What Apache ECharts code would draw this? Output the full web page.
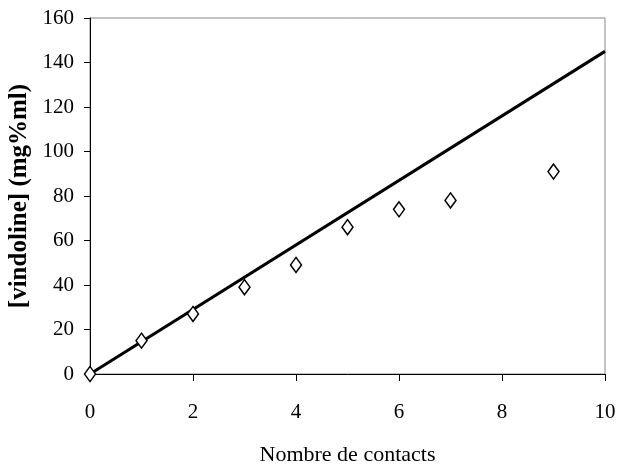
<!DOCTYPE html>
<html>
<head>
<meta charset="utf-8">
<script src="https://cdn.jsdelivr.net/npm/echarts@6/dist/echarts.min.js"></script>
<style>
  html, body { margin: 0; padding: 0; background: #fff; }
  #chart { width: 618px; height: 465px; }
</style>
</head>
<body>
<div id="chart"></div>
<script>
// mesures
var contacts = [0, 1, 2, 3, 4, 5, 6, 7, 9];
var vindoline = [0, 15, 27, 39, 49, 66, 74, 78, 91];
// droite théorique
var lineX = [0, 10];
var lineY = [0, 145];

var myChart = echarts.init(document.getElementById('chart'));
var font = 'Liberation Serif';

var option = {
  backgroundColor: '#fff',
  animation: false,
  grid: {
    left: 90, right: 13, top: 18, bottom: 91,
    outerBoundsMode: 'none',
    containLabel: false,
    show: true,
    borderColor: '#888',
    borderWidth: 1
  },
  xAxis: {
    type: 'value',
    min: 0, max: 10, interval: 2,
    name: 'Nombre de contacts',
    nameLocation: 'middle',
    nameGap: 70,
    nameTextStyle: { fontFamily: font, fontSize: 22, color: '#000' },
    axisLine: { lineStyle: { color: '#000', width: 1 } },
    axisTick: { inside: false, length: 7, lineStyle: { color: '#000' } },
    axisLabel: { fontFamily: font, fontSize: 21, color: '#000', margin: 28 },
    splitLine: { show: false }
  },
  yAxis: {
    type: 'value',
    min: 0, max: 160, interval: 20,
    name: '[vindoline] (mg%ml)',
    nameLocation: 'middle',
    nameGap: 57,
    nameTextStyle: { fontFamily: font, fontSize: 25, fontWeight: 'bold', color: '#000' },
    axisLine: { show: true, lineStyle: { color: '#000', width: 1 } },
    axisTick: { show: true, length: 6, lineStyle: { color: '#000' } },
    axisLabel: { fontFamily: font, fontSize: 21, color: '#000', margin: 16 },
    splitLine: { show: false }
  },
  series: [{
    type: 'line',
    data: lineX.map(function (x, i) { return [x, lineY[i]]; }),
    showSymbol: false,
    lineStyle: { color: '#000', width: 3 },
    z: 2
  }, {
    type: 'scatter',
    data: contacts.map(function (x, i) { return [x, vindoline[i]]; }),
    symbol: 'path://M5,0 L10,7 L5,14 L0,7 Z',
    symbolSize: [11, 15],
    itemStyle: { color: '#fff', borderColor: '#000', borderWidth: 1.5, opacity: 1 },
    z: 3
  }]
};

myChart.setOption(option);
window.addEventListener('resize', function () {
  myChart.resize();
});
</script>
</body>
</html>
